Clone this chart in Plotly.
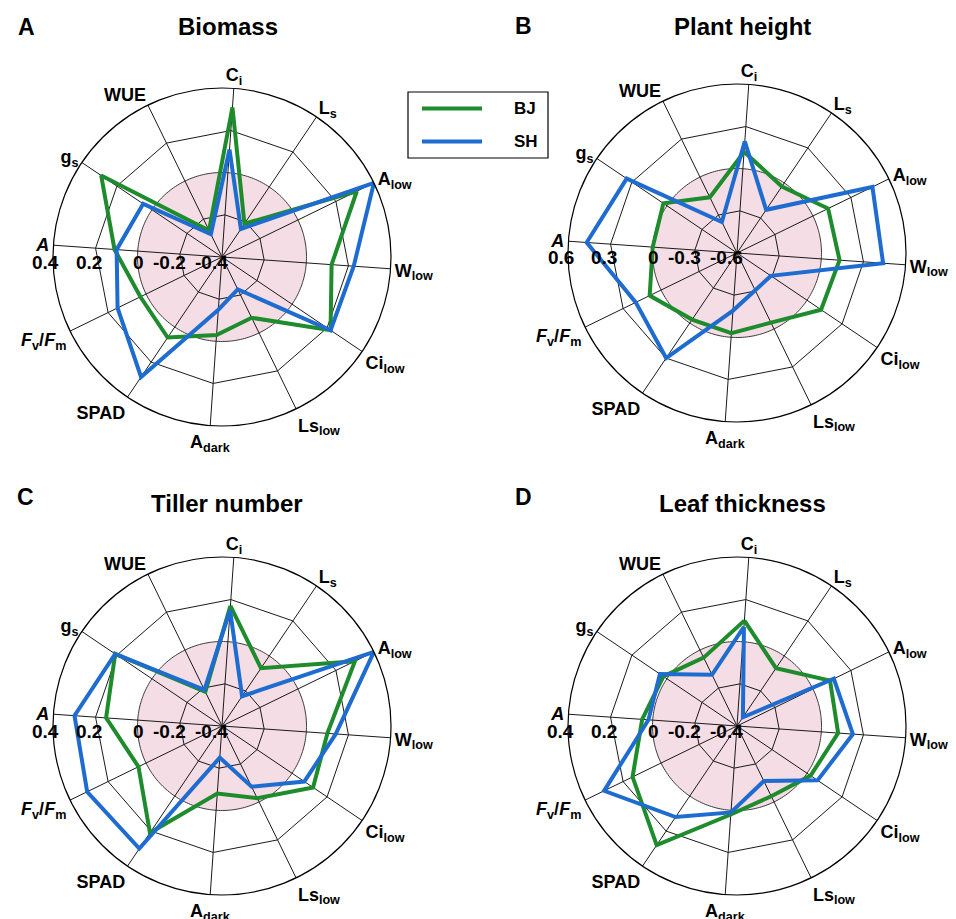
import numpy as np
import plotly.graph_objects as go

W, H = 956, 919
FONT = "Liberation Sans, Arial, sans-serif"
GREEN = "#1e8c2c"
BLUE = "#1f6cd0"
PINK = "#f4dde4"

# ---- data ----
categories = ["Ci", "Ls", "Alow", "Wlow", "Cilow", "Lslow", "Adark", "SPAD", "FvFm", "A", "gs", "WUE"]
cat_labels = ["<b>C<sub>i</sub></b>", "<b>L<sub>s</sub></b>", "<b>A<sub>low</sub></b>",
              "<b>W<sub>low</sub></b>", "<b>Ci<sub>low</sub></b>", "<b>Ls<sub>low</sub></b>",
              "<b>A<sub>dark</sub></b>", "<b>SPAD</b>",
              "<b><i>F</i><sub>v</sub>/<i>F</i><sub>m</sub></b>", "<b><i>A</i></b>",
              "<b>g<sub>s</sub></b>", "<b>WUE</b>"]
series = ["BJ", "SH"]
series_colors = [GREEN, BLUE]

titles = ["Biomass", "Plant height", "Tiller number", "Leaf thickness"]
letters = ["A", "B", "C", "D"]

ticks_ABCD = [
    [-0.4, -0.2, 0, 0.2, 0.4],
    [-0.6, -0.3, 0, 0.3, 0.6],
    [-0.4, -0.2, 0, 0.2, 0.4],
    [-0.4, -0.2, 0, 0.2, 0.4],
]
ticktext_ABCD = [
    ["-0.4", "-0.2", "0", "0.2", "0.4"],
    ["-0.6", "-0.3", "0", "0.3", "0.6"],
    ["-0.4", "-0.2", "0", "0.2", "0.4"],
    ["-0.4", "-0.2", "0", "0.2", "0.4"],
]

biomass_BJ = [0.31, -0.21, 0.31, 0.12, 0.22, -0.08, -0.03, 0.06, 0.03, 0.11, 0.29, -0.26]
biomass_SH = [0.11, -0.24, 0.40, 0.225, 0.22, -0.23, -0.15, 0.285, 0.15, 0.10, 0.05, -0.28]
height_BJ = [0.12, -0.03, 0.12, 0.13, 0.12, -0.05, -0.03, -0.03, 0.09, 0.0, 0.03, -0.16]
height_SH = [0.195, -0.23, 0.47, 0.44, -0.31, -0.305, -0.19, 0.30, 0.20, 0.47, 0.345, -0.355]
tiller_BJ = [0.17, -0.07, 0.30, 0.10, 0.12, -0.02, -0.08, 0.21, 0.04, 0.15, 0.21, -0.22]
tiller_SH = [0.15, -0.23, 0.40, 0.14, 0.07, -0.08, -0.25, 0.30, 0.31, 0.30, 0.21, -0.21]
thick_BJ = [0.10, -0.07, 0.09, 0.08, 0.02, -0.03, 0.02, 0.28, 0.15, 0.05, 0.02, -0.04]
thick_SH = [0.07, -0.35, 0.11, 0.15, 0.06, -0.11, 0.01, 0.12, 0.30, 0.02, 0.04, -0.13]

panel_data = [
    (biomass_BJ, biomass_SH),
    (height_BJ, height_SH),
    (tiller_BJ, tiller_SH),
    (thick_BJ, thick_SH),
]

# ---- layout geometry ----
centers = [(222, 257), (737, 253), (222, 726), (737, 726)]
R = 169
ROTATION = 86
title_pos = [(228, 26), (742, 26), (227, 503), (742, 503)]
letter_pos = [(26, 27), (523, 26), (25, 497), (523, 497)]
legend_box = (408, 92, 548, 158)   # pixel box of the legend
radial_label_axis = "A"            # the spoke along which the radial values are written

n = len(categories)
angles = [i * 360.0 / n for i in range(n)]
closed_angles = angles + [360.0]
circle_theta = np.linspace(0, 360, 241)

fig = go.Figure()
layout_polars = {}
annotations = []

axis_deg = ROTATION - angles[categories.index(radial_label_axis)]
axis_cos = np.cos(np.radians(axis_deg))

for p in range(4):
    sp = "polar" if p == 0 else f"polar{p + 1}"
    ticks = ticks_ABCD[p]
    lo, hi = ticks[0], ticks[-1]

    # pink disk for values <= 0
    fig.add_trace(go.Scatterpolar(
        r=[ticks[2]] * len(circle_theta), theta=circle_theta, mode="lines",
        fill="toself", fillcolor=PINK, line=dict(color="#3a3a3a", width=1),
        hoverinfo="skip", showlegend=False, subplot=sp))
    # polygon rings
    for v in (ticks[1], ticks[3]):
        fig.add_trace(go.Scatterpolar(
            r=[v] * (n + 1), theta=closed_angles, mode="lines",
            line=dict(color="#1a1a1a", width=1), hoverinfo="skip",
            showlegend=False, subplot=sp))
    # spokes
    sr, st = [], []
    for a in angles:
        sr += [lo, hi, None]
        st += [a, a, None]
    fig.add_trace(go.Scatterpolar(
        r=sr, theta=st, mode="lines", line=dict(color="#1a1a1a", width=1),
        hoverinfo="skip", showlegend=False, subplot=sp))

    for name, vals, col in zip(series, panel_data[p], series_colors):
        fig.add_trace(go.Scatterpolar(
            r=list(vals) + [vals[0]], theta=closed_angles, mode="lines",
            line=dict(color=col, width=4), name=name,
            showlegend=False, subplot=sp))

    cx, cy = centers[p]
    layout_polars[sp] = dict(
        domain=dict(x=[(cx - R) / W, (cx + R) / W], y=[1 - (cy + R) / H, 1 - (cy - R) / H]),
        bgcolor="white",
        angularaxis=dict(
            tickmode="array", tickvals=angles, ticktext=cat_labels,
            direction="clockwise", rotation=ROTATION, showgrid=False,
            showline=True, linecolor="black", linewidth=1.2, ticks="",
            tickfont=dict(family=FONT, size=18, color="black"),
        ),
        radialaxis=dict(
            range=[lo, hi], showgrid=False, showline=False, ticks="",
            showticklabels=False,
        ),
    )

    # radial value labels written just below the "A" spoke, like the reference
    for v, txt in zip(ticks, ticktext_ABCD[p]):
        rpx = (v - lo) / (hi - lo) * R
        xpx = cx + rpx * axis_cos + 8
        annotations.append(dict(
            x=xpx / W, y=1 - (cy + 5) / H, xref="paper", yref="paper",
            text=f"<b>{txt}</b>", showarrow=False, xanchor="right", yanchor="middle",
            font=dict(family=FONT, size=19, color="black")))

for p in range(4):
    tx, ty = title_pos[p]
    annotations.append(dict(
        x=tx / W, y=1 - ty / H, xref="paper", yref="paper", text=f"<b>{titles[p]}</b>",
        showarrow=False, xanchor="center", yanchor="middle",
        font=dict(family=FONT, size=24, color="black")))
    lx, ly = letter_pos[p]
    annotations.append(dict(
        x=lx / W, y=1 - ly / H, xref="paper", yref="paper", text=f"<b>{letters[p]}</b>",
        showarrow=False, xanchor="center", yanchor="middle",
        font=dict(family=FONT, size=23, color="black")))

# legend drawn as a framed key (long line samples like the reference)
x0, y0, x1, y1 = legend_box
shapes = [dict(type="rect", xref="paper", yref="paper",
               x0=x0 / W, x1=x1 / W, y0=1 - y1 / H, y1=1 - y0 / H,
               line=dict(color="black", width=1.2), fillcolor="white", layer="above")]
row_h = (y1 - y0) / len(series)
for i, (name, col) in enumerate(zip(series, series_colors)):
    yy = y0 + row_h * (i + 0.5)
    shapes.append(dict(type="line", xref="paper", yref="paper",
                       x0=(x0 + 14) / W, x1=(x0 + 74) / W, y0=1 - yy / H, y1=1 - yy / H,
                       line=dict(color=col, width=4), layer="above"))
    annotations.append(dict(
        x=(x0 + 104) / W, y=1 - yy / H, xref="paper", yref="paper", text=f"<b>{name}</b>",
        showarrow=False, xanchor="left", yanchor="middle",
        font=dict(family=FONT, size=17, color="black")))

fig.update_layout(
    width=W, height=H, margin=dict(l=0, r=0, t=0, b=0),
    paper_bgcolor="white", plot_bgcolor="white",
    annotations=annotations, shapes=shapes, showlegend=False,
    **layout_polars,
)

fig.write_html("out.html")
